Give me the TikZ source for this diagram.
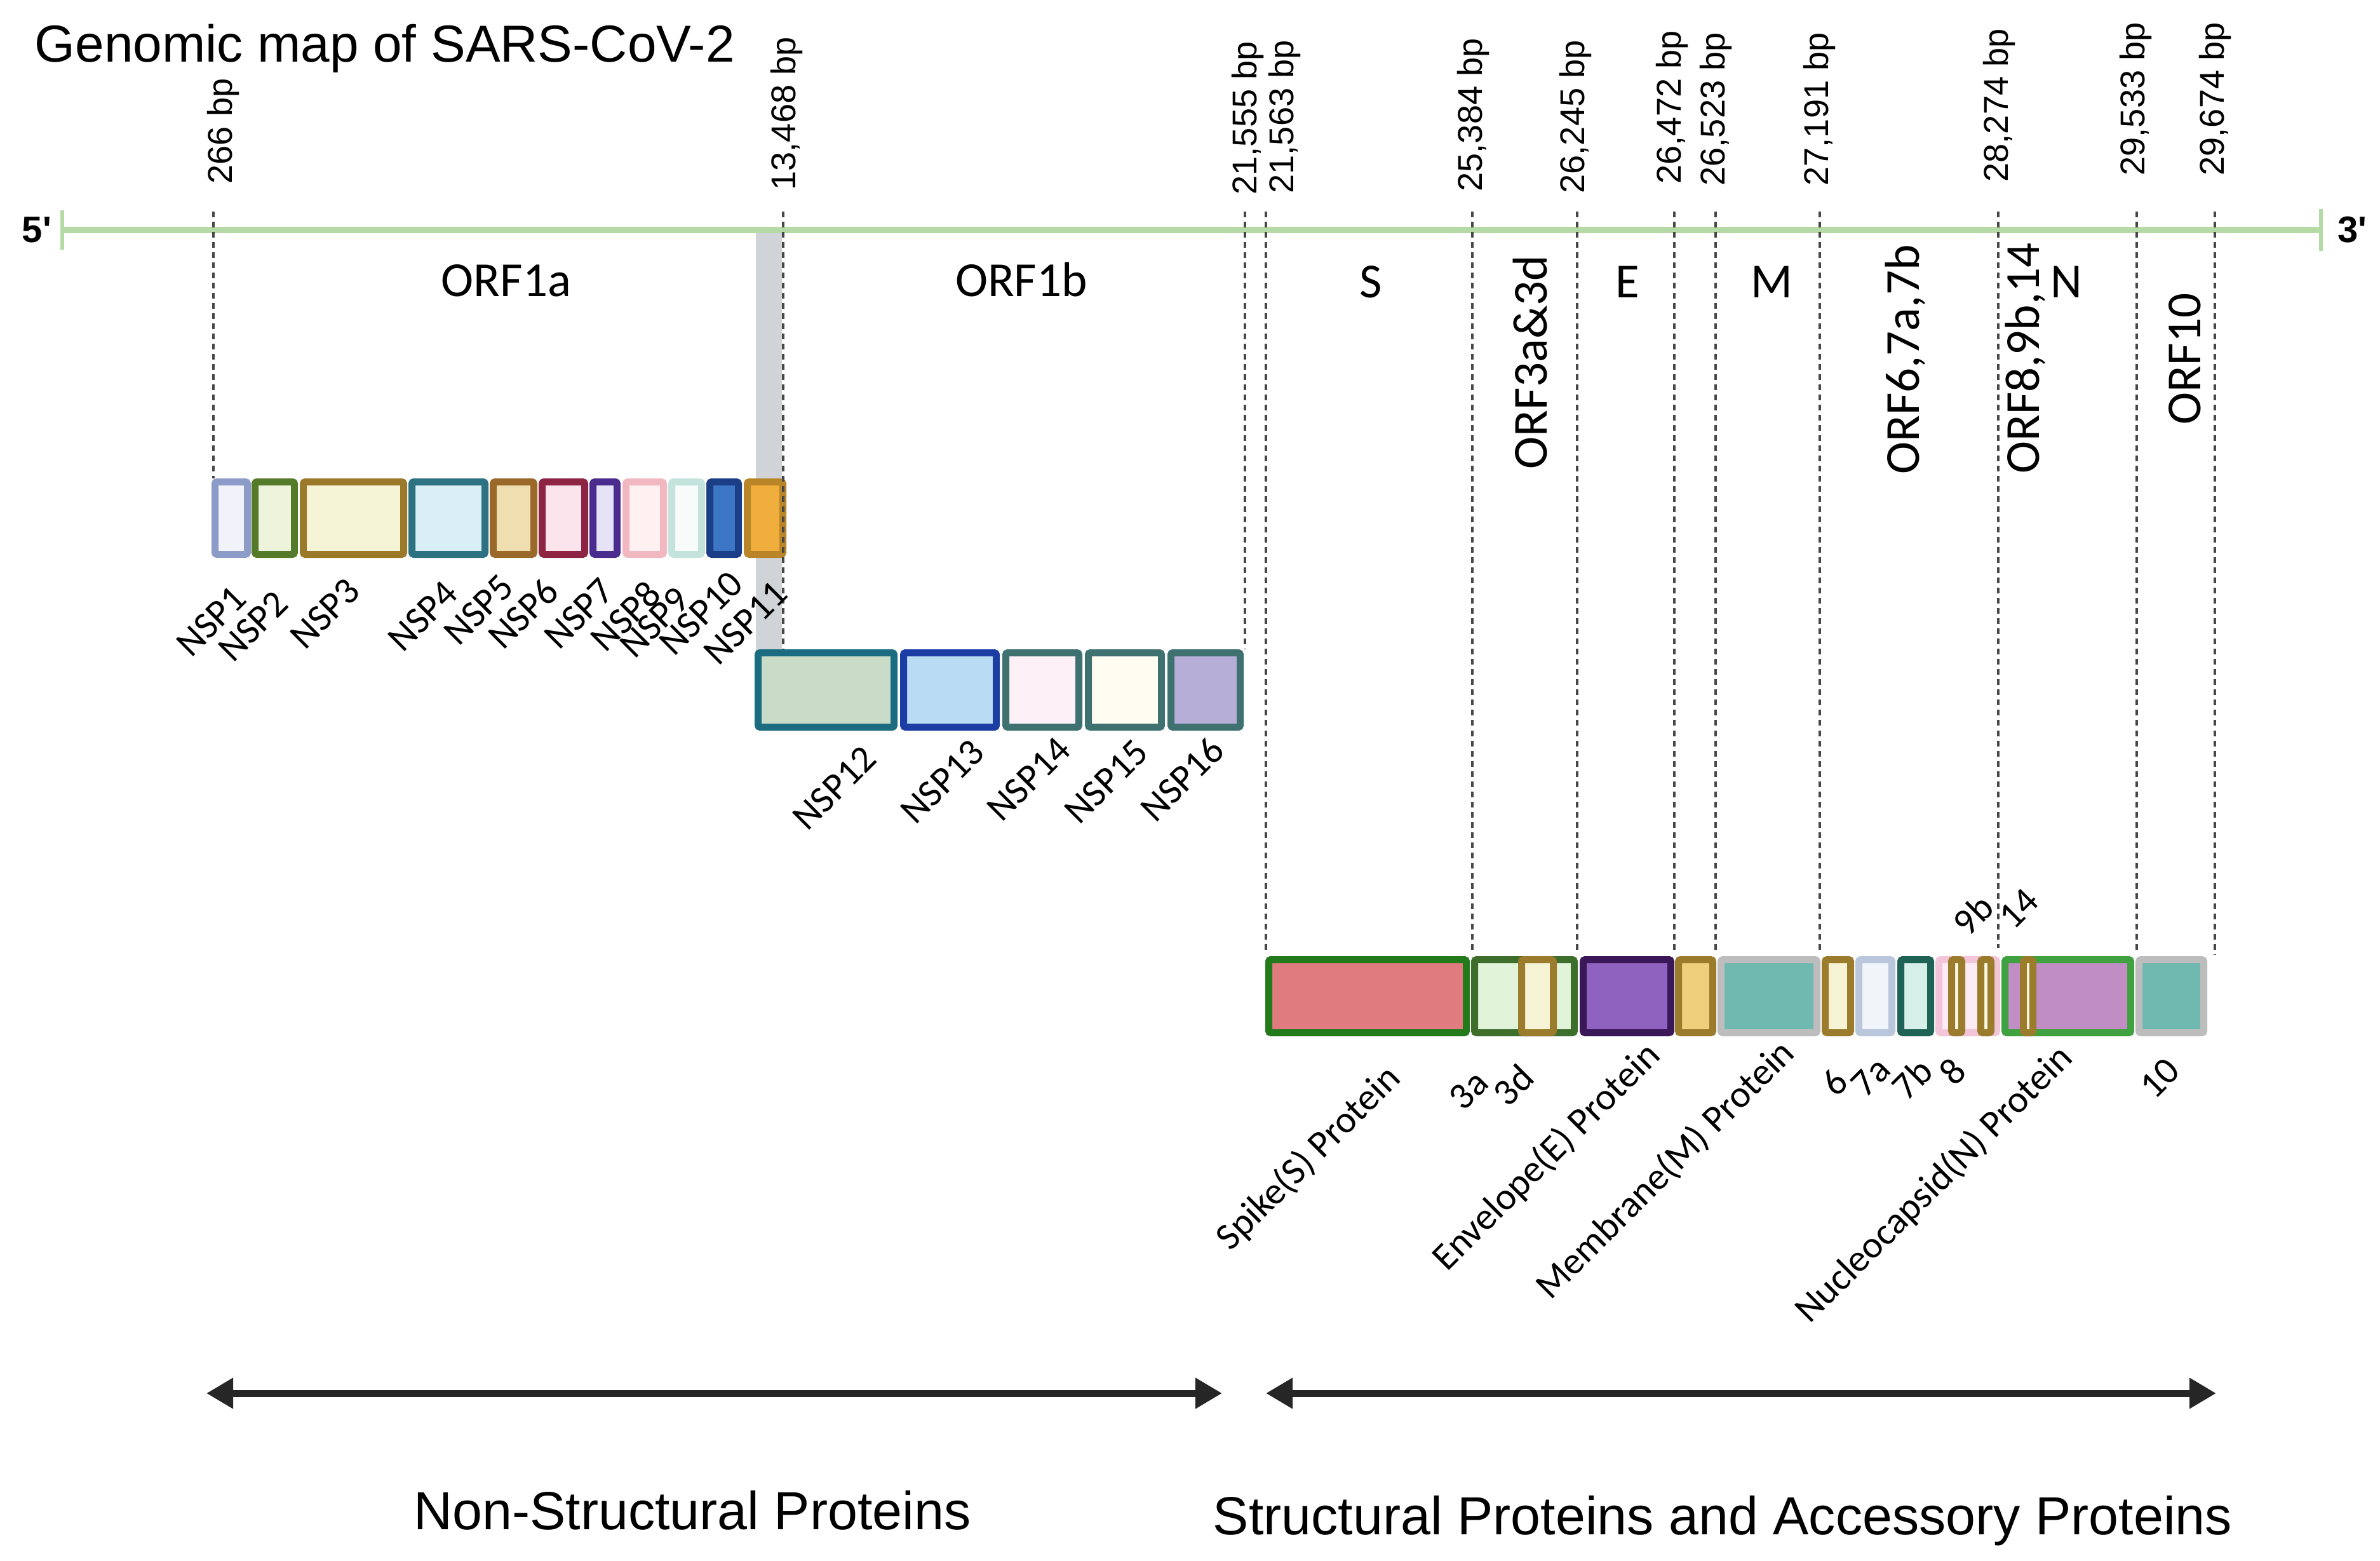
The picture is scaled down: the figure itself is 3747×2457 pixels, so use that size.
\documentclass[tikz,border=0pt]{standalone}
\usepackage{fontspec}
\setmainfont{Liberation Sans}
\newfontfamily\calfont{Carlito}
\usetikzlibrary{arrows.meta}
\definecolor{genome}{HTML}{B5DAA6}
\definecolor{dgray}{HTML}{474747}
\definecolor{graybar}{HTML}{D0D3D7}
\definecolor{arrowc}{HTML}{262626}
\definecolor{nspAb}{HTML}{8C9BC8}\definecolor{nspAf}{HTML}{F2F3FA}
\definecolor{nspBb}{HTML}{557A2A}\definecolor{nspBf}{HTML}{EDF4DB}
\definecolor{nspCb}{HTML}{9A7A2A}\definecolor{nspCf}{HTML}{F6F4D6}
\definecolor{nspDb}{HTML}{2D7283}\definecolor{nspDf}{HTML}{D9EEF5}
\definecolor{nspEb}{HTML}{9A6828}\definecolor{nspEf}{HTML}{EFDFB0}
\definecolor{nspFb}{HTML}{8E2444}\definecolor{nspFf}{HTML}{FCE4EC}
\definecolor{nspGb}{HTML}{4A2C8E}\definecolor{nspGf}{HTML}{E6E3F6}
\definecolor{nspHb}{HTML}{F2B8C2}\definecolor{nspHf}{HTML}{FFF1F1}
\definecolor{nspIb}{HTML}{C5E3DD}\definecolor{nspIf}{HTML}{F7FCFA}
\definecolor{nspJb}{HTML}{1B3E86}\definecolor{nspJf}{HTML}{3C76C4}
\definecolor{nspKb}{HTML}{B98528}\definecolor{nspKf}{HTML}{F0AE3C}
\definecolor{nspLb}{HTML}{1B6C80}\definecolor{nspLf}{HTML}{C9DCC7}
\definecolor{nspMb}{HTML}{1C3DA4}\definecolor{nspMf}{HTML}{B9DBF3}
\definecolor{nspNb}{HTML}{3E7170}\definecolor{nspNf}{HTML}{FDF0F6}
\definecolor{nspOf}{HTML}{FFFDF2}
\definecolor{nspPf}{HTML}{B6AED7}
\definecolor{Sb}{HTML}{237A1B}\definecolor{Sf}{HTML}{E07C7F}
\definecolor{TAb}{HTML}{3E6E2B}\definecolor{TAf}{HTML}{E1F4DA}
\definecolor{goldb}{HTML}{9B7B2C}\definecolor{creamf}{HTML}{F6F3D4}
\definecolor{Eb}{HTML}{3A1858}\definecolor{Ef}{HTML}{9062C0}
\definecolor{EMf}{HTML}{F0CF7C}
\definecolor{Mb}{HTML}{BDBDBD}\definecolor{Mf}{HTML}{6FB9B1}
\definecolor{SAb}{HTML}{B9C6DB}\definecolor{SAf}{HTML}{F1F5FA}
\definecolor{SBb}{HTML}{1E6356}\definecolor{SBf}{HTML}{D7EFE9}
\definecolor{EIb}{HTML}{F3C5D8}\definecolor{EIf}{HTML}{FDEBF5}
\definecolor{Nb}{HTML}{3FA13F}\definecolor{Nf}{HTML}{C08DC4}
\definecolor{smallf}{HTML}{FDF8E2}
\tikzset{
  gbox/.style={rectangle, line width=0.11cm, rounded corners=0.03cm, inner sep=0pt},
  dline/.style={draw=dgray, line width=0.045cm, dash pattern=on 0.09cm off 0.07cm},
  genomeline/.style={draw=genome, line width=0.1cm},
  bplab/.style={rotate=90, anchor=west, inner sep=0pt, font=\fontsize{15.4pt}{18pt}\selectfont},
  orflab/.style={inner sep=0pt, font=\calfont\fontsize{21.9pt}{26pt}\selectfont},
  nsplab/.style={rotate=45, anchor=east, inner sep=0pt, font=\calfont\fontsize{17pt}{20pt}\selectfont},
  smlab/.style={rotate=45, inner sep=0pt, font=\calfont\fontsize{17pt}{20pt}\selectfont},
  biglab/.style={anchor=base, inner sep=0pt, font=\fontsize{24pt}{29pt}\selectfont},
  endlab/.style={inner sep=0pt, font=\bfseries\fontsize{16.5pt}{20pt}\selectfont},
  biarrow/.style={draw=arrowc, line width=0.11cm, {Triangle[length=0.42cm,width=0.46cm]}-{Triangle[length=0.42cm,width=0.46cm]}}
}
\newcommand{\gb}[7]{%
  \node[gbox, draw=#6, fill=#7, minimum width={(#3-#2-11)*0.01cm}, minimum height={(#5-#4-11)*0.01cm}] (#1) at ({(#2+#3)/2},{(#4+#5)/2}) {};}
\begin{document}
\begin{tikzpicture}[x=0.01cm, y=-0.01cm]
\fill[white] (0,0) rectangle (3747,2457);
\useasboundingbox (0,0) rectangle (3747,2457);

% title
\node[anchor=base west, inner sep=0pt, font=\fontsize{23.3pt}{28pt}\selectfont] (title) at (54,97) {Genomic map of SARS-CoV-2};

% gray bar (ribosomal frameshift region)
\fill[graybar] (1190,367) rectangle (1231,1025);

% genome line
\coordinate (g5) at (98,362);
\coordinate (g3) at (3654,362);
\draw[genomeline] (g5) -- (g3);
\draw[draw=genome, line width=0.06cm] ([yshift=0.31cm]g5) -- ([yshift=-0.31cm]g5);
\draw[draw=genome, line width=0.06cm] ([yshift=0.33cm]g3) -- ([yshift=-0.33cm]g3);
\node[endlab] (five) at (58,362) {5\textquotesingle};
\node[endlab] (three) at (3703,362) {3\textquotesingle};

% dashed-line start points on the genome
\coordinate (d266) at (336,333);
\coordinate (d13468) at (1233,333);
\coordinate (d21555) at (1960,333);
\coordinate (d21563) at (1993,333);
\coordinate (d25384) at (2318,333);
\coordinate (d26245) at (2483,333);
\coordinate (d26472) at (2636,333);
\coordinate (d26523) at (2701,333);
\coordinate (d27191) at (2865,333);
\coordinate (d28274) at (3146,333);
\coordinate (d29533) at (3364,333);
\coordinate (d29674) at (3487,333);

% row 1 (ORF1a NSPs)
\gb{nsp1}{333}{395}{753}{878}{nspAb}{nspAf}
\gb{nsp2}{396}{469}{753}{878}{nspBb}{nspBf}
\gb{nsp3}{472}{641}{753}{878}{nspCb}{nspCf}
\gb{nsp4}{643}{769}{753}{878}{nspDb}{nspDf}
\gb{nsp5}{771}{846}{753}{878}{nspEb}{nspEf}
\gb{nsp6}{848}{926}{753}{878}{nspFb}{nspFf}
\gb{nsp7}{928}{977}{753}{878}{nspGb}{nspGf}
\gb{nsp8}{980}{1050}{753}{878}{nspHb}{nspHf}
\gb{nsp9}{1052}{1110}{753}{878}{nspIb}{nspIf}
\gb{nsp10}{1112}{1168}{753}{878}{nspJb}{nspJf}
\gb{nsp11}{1171}{1238}{753}{878}{nspKb}{nspKf}

% row 2 (ORF1b NSPs)
\gb{nsp12}{1188}{1413}{1022}{1150}{nspLb}{nspLf}
\gb{nsp13}{1417}{1574}{1022}{1150}{nspMb}{nspMf}
\gb{nsp14}{1578}{1704}{1022}{1150}{nspNb}{nspNf}
\gb{nsp15}{1708}{1834}{1022}{1150}{nspNb}{nspOf}
\gb{nsp16}{1838}{1958}{1022}{1150}{nspNb}{nspPf}

% dashed connectors
\draw[dline] (d266) -- (d266 |- nsp1.north);
\draw[dline] (d13468) -- (d13468 |- nsp12.north);
\draw[dline] (d21555) -- (d21555 |- nsp16.north);
\draw[dline] (d21563) -- (d21563 |- 0,1500);
\draw[dline] (d25384) -- (d25384 |- 0,1500);
\draw[dline] (d26245) -- (d26245 |- 0,1500);
\draw[dline] (d26472) -- (d26472 |- 0,1500);
\draw[dline] (d26523) -- (d26523 |- 0,1500);
\draw[dline] (d27191) -- (d27191 |- 0,1500);
\draw[dline] (d28274) -- (d28274 |- 0,1492);
\draw[dline] (d29533) -- (d29533 |- 0,1500);
\draw[dline] (d29674) -- (d29674 |- 0,1502);

% row 3 (structural and accessory)
\gb{sbox}{1992}{2314}{1505}{1631}{Sb}{Sf}
\gb{orf3a}{2316}{2484}{1505}{1631}{TAb}{TAf}
\gb{orf3d}{2390}{2451}{1505}{1631}{goldb}{creamf}
\gb{ebox}{2487}{2636}{1505}{1631}{Eb}{Ef}
\gb{emgap}{2637}{2702}{1505}{1631}{goldb}{EMf}
\gb{mbox}{2704}{2866}{1505}{1631}{Mb}{Mf}
\gb{orf6}{2868}{2919}{1505}{1631}{goldb}{creamf}
\gb{orf7a}{2921}{2984}{1505}{1631}{SAb}{SAf}
\gb{orf7b}{2987}{3045}{1505}{1631}{SBb}{SBf}
\gb{orf8}{3047}{3149}{1505}{1631}{EIb}{EIf}
\gb{orf9b}{3067}{3094}{1505}{1631}{goldb}{smallf}
\gb{orf8b}{3113}{3140}{1505}{1631}{goldb}{smallf}
\gb{nbox}{3151}{3360}{1505}{1631}{Nb}{Nf}
\gb{orf14}{3180}{3206}{1505}{1631}{goldb}{smallf}
\gb{orf10}{3362}{3475}{1505}{1631}{Mb}{Mf}

% bp labels
\node[bplab] (l266) at (351,290) {266 bp};
\node[bplab] (l13468) at (1238,300) {13,468 bp};
\node[bplab] (l21555) at (1964,307) {21,555 bp};
\node[bplab] (l21563) at (2022,305) {21,563 bp};
\node[bplab] (l25384) at (2319,302) {25,384 bp};
\node[bplab] (l26245) at (2480,305) {26,245 bp};
\node[bplab] (l26472) at (2632,290) {26,472 bp};
\node[bplab] (l26523) at (2701,293) {26,523 bp};
\node[bplab] (l27191) at (2864,293) {27,191 bp};
\node[bplab] (l28274) at (3147,287) {28,274 bp};
\node[bplab] (l29533) at (3362,277) {29,533 bp};
\node[bplab] (l29674) at (3487,277) {29,674 bp};

% ORF labels
\node[orflab, anchor=base] (o1a) at (797,466) {ORF1a};
\node[orflab, anchor=base] (o1b) at (1608,466) {ORF1b};
\node[orflab, anchor=base] (oS) at (2158,468) {S};
\node[orflab, anchor=base] (oE) at (2562,468) {E};
\node[orflab, anchor=base] (oM) at (2789,468) {M};
\node[orflab, anchor=base] (oN) at (3253,468) {N};
\node[orflab, rotate=90] (o3) at (2409,570) {ORF3a\&3d};
\node[orflab, rotate=90] (o67) at (3000,566) {ORF6,7a,7b};
\node[orflab, rotate=90] (o89) at (3189,564) {ORF8,9b,14};
\node[orflab, rotate=90] (o10) at (3440,565) {ORF10};

% NSP labels
\node[nsplab] (n1) at (378,932) {NSP1};
\node[nsplab] (n2) at (444,940) {NSP2};
\node[nsplab] (n3) at (557,920) {NSP3};
\node[nsplab] (n4) at (711,924) {NSP4};
\node[nsplab] (n5) at (799,914) {NSP5};
\node[nsplab] (n6) at (869,920) {NSP6};
\node[nsplab] (n7) at (957,920) {NSP7};
\node[nsplab] (n8) at (1030,924) {NSP8};
\node[nsplab] (n9) at (1076,934) {NSP9};
\node[nsplab] (n10) at (1160,909) {NSP10};
\node[nsplab] (n11) at (1230,924) {NSP11};
\node[nsplab] (n12) at (1370,1184) {NSP12};
\node[nsplab] (n13) at (1540,1174) {NSP13};
\node[nsplab] (n14) at (1676,1170) {NSP14};
\node[nsplab] (n15) at (1798,1174) {NSP15};
\node[nsplab] (n16) at (1917,1170) {NSP16};

% structural labels
\node[nsplab] (pS) at (2196,1688) {Spike(S) Protein};
\node[nsplab] (pE) at (2605,1652) {Envelope(E) Protein};
\node[nsplab] (pM) at (2816,1648) {Membrane(M) Protein};
\node[nsplab] (pN) at (3254,1656) {Nucleocapsid(N) Protein};
\node[smlab] (s3a) at (2312,1716) {3a};
\node[smlab] (s3d) at (2382,1708) {3d};
\node[smlab] (s6) at (2888,1704) {6};
\node[smlab] (s7a) at (2945,1695) {7a};
\node[smlab] (s7b) at (3010,1698) {7b};
\node[smlab] (s8) at (3074,1686) {8};
\node[smlab] (s10) at (3400,1697) {10};
\node[smlab] (s9b) at (3106,1440) {9b};
\node[smlab] (s14) at (3178,1430) {14};

% bottom arrows
\coordinate (a1l) at (325,2193);
\coordinate (a1r) at (1924,2193);
\coordinate (a2l) at (1993,2193);
\coordinate (a2r) at (3489,2193);
\draw[biarrow] (a1l) -- (a1r);
\draw[biarrow] (a2l) -- (a2r);
\node[biglab] (nsplabel) at (1090,2407) {Non-Structural Proteins};
\node[biglab] (splabel) at (2712,2415) {Structural Proteins and Accessory Proteins};
\end{tikzpicture}
\end{document}
